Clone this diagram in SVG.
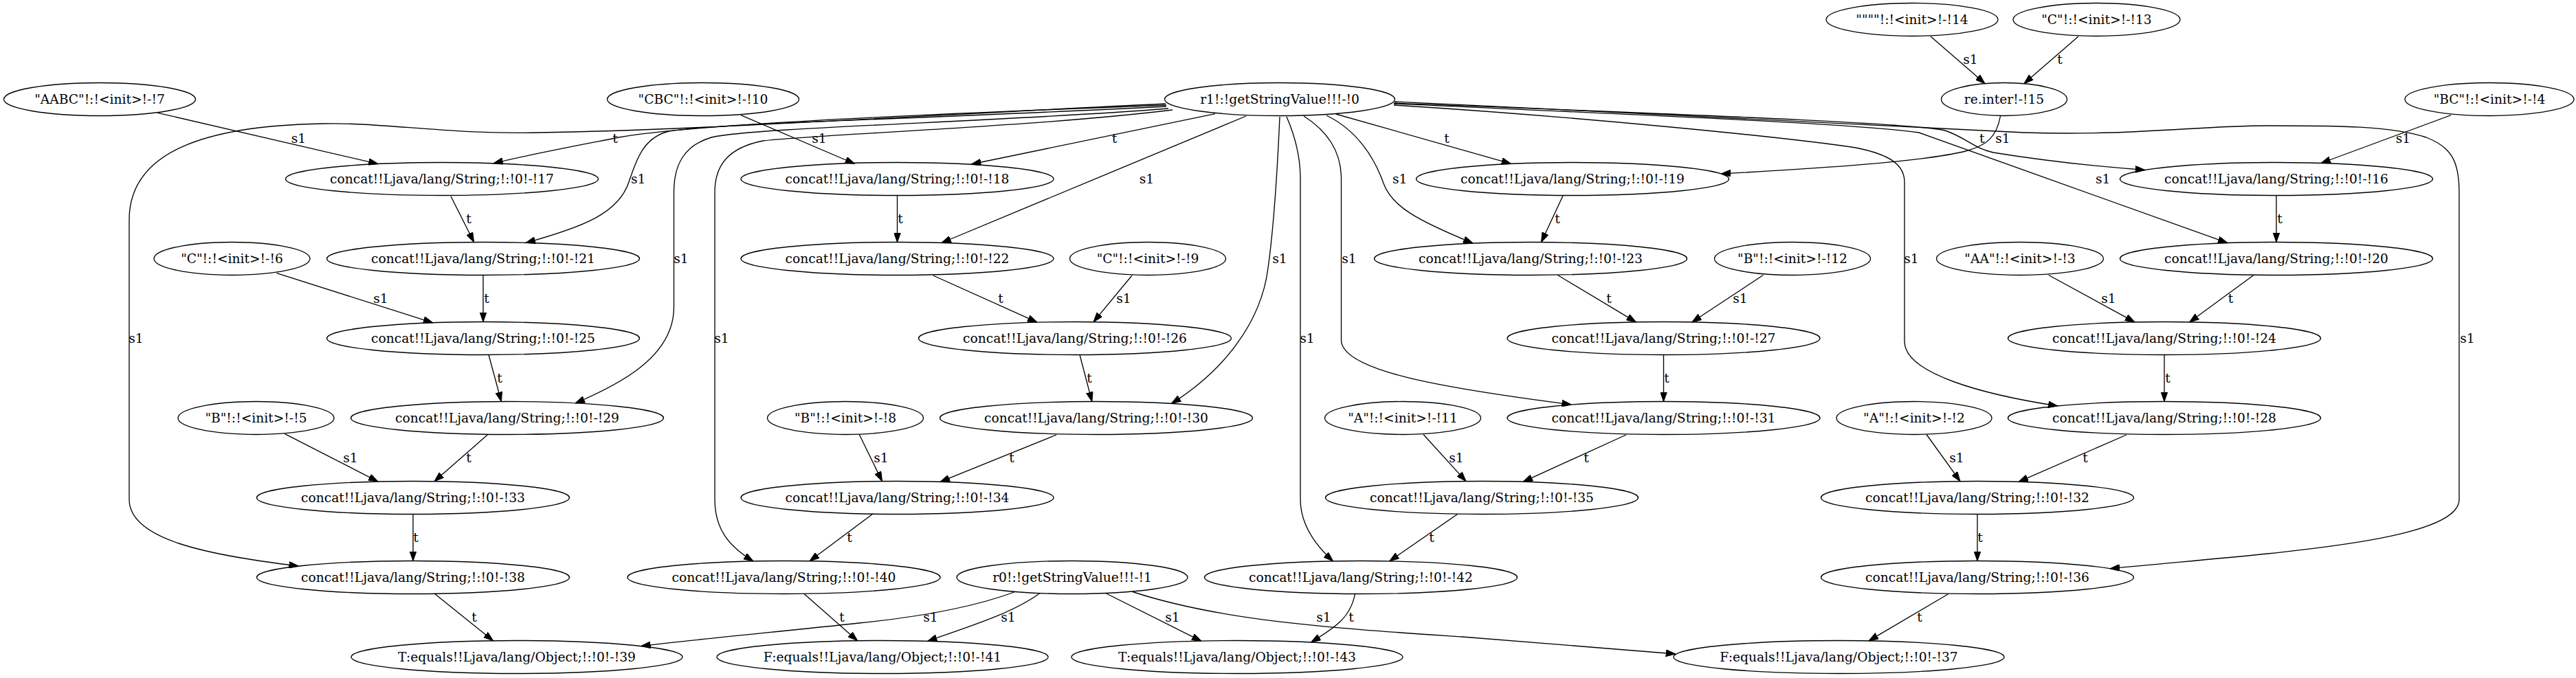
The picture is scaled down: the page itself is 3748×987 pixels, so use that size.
<svg xmlns="http://www.w3.org/2000/svg" width="3748" height="987" viewBox="0 0 3748 987">
<style>
.n ellipse{fill:none;stroke:#000;stroke-width:1.33}
text{font-family:"DejaVu Serif","Liberation Serif",serif;font-size:18.67px;fill:#000}
.n text{text-anchor:middle}
.e path{fill:none;stroke:#000;stroke-width:1.33;marker-end:url(#ah)}
.e text{text-anchor:middle}
</style>
<defs>
<marker id="ah" markerUnits="userSpaceOnUse" markerWidth="14" markerHeight="10" viewBox="0 0 13.3 9.34" refX="13.3" refY="4.67" orient="auto">
<path d="M0,0 L13.3,4.67 L0,9.34 z" fill="#000" stroke="#000" stroke-width="1"/>
</marker>
</defs>
<rect x="0" y="0" width="3748" height="987" fill="#fff"/>
<g class="e" id="connectors">
<path d="M2809,53 L2888,121.6"/><text x="2867" y="93">s1</text>
<path d="M3024,53 L2945,121.6"/><text x="2997" y="93">t</text>
<path d="M229.6,164.3 L550,238.6"/><text x="434.5" y="208">s1</text>
<path d="M1697,153 C1300,168 1000,182 900,200 C840,212 770,225 718,237.8"/><text x="895" y="208">t</text>
<path d="M1078,167.7 L1243.6,238.5"/><text x="1192" y="208">s1</text>
<path d="M1768,165.7 L1413.4,239"/><text x="1621.5" y="208">t</text>
<path d="M1943.6,166 L2198.6,238.4"/><text x="2105" y="208">t</text>
<path d="M2910.5,169 C2905,200 2890,212 2860,220 C2800,235 2650,245 2504,253"/><text x="2914" y="208">s1</text>
<path d="M3566,167.7 L3377,237.5"/><text x="3496.5" y="208">s1</text>
<path d="M2028,150 C2400,165 2780,178 2830,190 C2860,200 2870,215 2900,222 C2980,235 3060,243 3121,247.5"/><text x="2883.7" y="208">t</text>
<path d="M2028,151 C2400,168 2700,180 2792,193 L3241,353.7"/><text x="3059.7" y="267">s1</text>
<path d="M2028,153 C2300,170 2600,200 2700,215 C2750,225 2771,240 2771,265 L2771,497 C2771,545 2890,575 2994,591"/><text x="2781" y="382.5">s1</text>
<path d="M2029,148 C2400,165 2800,185 2945,193 C3100,198 3200,183 3297,183 C3400,183 3480,183 3530,200 C3570,215 3578,240 3578,280 L3578,727 C3578,790 3300,805 3070,827.8"/><text x="3590" y="499">s1</text>
<path d="M1930,168 C1975,190 2000,230 2013,267 C2025,300 2060,320 2143,354"/><text x="2036.7" y="267">s1</text>
<path d="M1813,169 L1370,353.5"/><text x="1668.5" y="267">s1</text>
<path d="M1862,170 C1858,260 1852,340 1845,390 C1835,470 1780,540 1704.4,587.5"/><text x="1862" y="382.5">s1</text>
<path d="M1872,170 C1885,200 1892,230 1892,260 L1892,727 C1892,760 1910,790 1939.6,817"/><text x="1902" y="499">s1</text>
<path d="M1897,169 C1930,190 1951.5,220 1951.5,260 L1951.5,495 C1951.5,540 2100,565 2286.4,589"/><text x="1963" y="382.5">s1</text>
<path d="M1697,155 C1300,175 1020,180 970,192 C935,202 925,235 915,265 C900,310 850,330 765,353.4"/><text x="928.7" y="266.5">s1</text>
<path d="M1700,158 C1450,178 1100,185 1035,200 C995,212 980.5,240 980.5,280 L980.5,447 C980.5,520 900,560 837,587"/><text x="991" y="382.5">s1</text>
<path d="M1706,160 C1500,185 1200,195 1110,205 C1060,215 1040,240 1040,280 L1040,727 C1040,770 1060,795 1096,817"/><text x="1050" y="499">s1</text>
<path d="M1696,151 C1300,170 1000,190 785,193 C650,196 560,178 470,180 C300,183 188,220 188,320 L188,727 C188,785 300,808 434.5,824"/><text x="198" y="499">s1</text>
<path d="M656,285.7 L689.6,352.5"/><text x="682" y="324.5">t</text>
<path d="M1305.5,284.5 L1305.5,352.5"/><text x="1310" y="324.5">t</text>
<path d="M2274,285 L2242.5,352.5"/><text x="2266" y="324.5">t</text>
<path d="M3312,284.5 L3312,352.5"/><text x="3317" y="324.5">t</text>
<path d="M402.6,397.7 L629.8,469.8"/><text x="554" y="440.5">s1</text>
<path d="M703,400.5 L703,468.5"/><text x="708" y="440.5">t</text>
<path d="M1357.6,401 L1509,469.2"/><text x="1456" y="440.5">t</text>
<path d="M1647,401 L1591,468.7"/><text x="1635" y="440.5">s1</text>
<path d="M2266.4,400.5 L2380.4,468.9"/><text x="2341" y="440.5">t</text>
<path d="M2565.4,400.5 L2461.7,469"/><text x="2532" y="440.5">s1</text>
<path d="M2980.7,400.5 L3106,468.9"/><text x="3068" y="440.5">s1</text>
<path d="M3279,400.5 L3185.6,469"/><text x="3245.5" y="440.5">t</text>
<path d="M711,516.5 L729.4,584.6"/><text x="727" y="556.5">t</text>
<path d="M1571,516.5 L1588.8,584.6"/><text x="1585" y="556.5">t</text>
<path d="M2420.5,516.5 L2420.5,584.5"/><text x="2425" y="556.5">t</text>
<path d="M3149,516.5 L3149,584.5"/><text x="3154" y="556.5">t</text>
<path d="M414.5,631.7 L550,701.1"/><text x="510" y="673">s1</text>
<path d="M709.5,632.8 L632,700.7"/><text x="682" y="673">t</text>
<path d="M1250,632 L1283.5,700.6"/><text x="1282" y="673">s1</text>
<path d="M1537,633 L1368,701.4"/><text x="1472" y="673">t</text>
<path d="M2071,632.5 L2133,700.6"/><text x="2119" y="673">s1</text>
<path d="M2366,633 L2216,701.4"/><text x="2308" y="673">t</text>
<path d="M2803,632.5 L2852,700.7"/><text x="2847" y="673">s1</text>
<path d="M3094,633 L2937,701.3"/><text x="3034" y="673">t</text>
<path d="M601,748.5 L601,816.5"/><text x="605" y="789">t</text>
<path d="M1270,748 L1178,816.8"/><text x="1236" y="789">t</text>
<path d="M2120.5,748.5 L2021.7,816.9"/><text x="2083" y="789">t</text>
<path d="M2877,748.5 L2877,816.5"/><text x="2881" y="789">t</text>
<path d="M632,864 L717.5,932.8"/><text x="690" y="904.5">t</text>
<path d="M1170,864.5 L1247.6,932.8"/><text x="1225" y="904.5">t</text>
<path d="M1971.5,864.5 C1965,900 1940,915 1907.7,935"/><text x="1966" y="904.5">t</text>
<path d="M2835,864.5 L2719,932.9"/><text x="2793" y="904.5">t</text>
<path d="M1477,861.5 C1400,890 1300,902 1250,907 C1150,918 1000,932 932.7,940.6"/><text x="1354" y="904.5">s1</text>
<path d="M1513,863.5 C1470,895 1400,915 1349.6,933.4"/><text x="1467" y="904.5">s1</text>
<path d="M1608.7,863.5 L1748,933.4"/><text x="1706" y="904.5">s1</text>
<path d="M1648,861.5 C1780,905 1950,915 2127,927 C2250,936 2350,944 2437.8,952"/><text x="1926" y="904.5">s1</text>
</g>
<g class="n" id="n14"><ellipse cx="2782" cy="28.5" rx="125" ry="24"/><text x="2782" y="35">""""!:!&lt;init&gt;!-!14</text></g>
<g class="n" id="n13"><ellipse cx="3050.5" cy="28.5" rx="121.5" ry="24"/><text x="3050.5" y="35">"C"!:!&lt;init&gt;!-!13</text></g>
<g class="n" id="n7"><ellipse cx="145" cy="144.5" rx="139.5" ry="24"/><text x="145" y="151">"AABC"!:!&lt;init&gt;!-!7</text></g>
<g class="n" id="n10"><ellipse cx="1023" cy="144.5" rx="139.5" ry="24"/><text x="1023" y="151">"CBC"!:!&lt;init&gt;!-!10</text></g>
<g class="n" id="n0"><ellipse cx="1862" cy="144.5" rx="167.5" ry="24"/><text x="1862" y="151">r1!:!getStringValue!!!-!0</text></g>
<g class="n" id="n15"><ellipse cx="2916" cy="144.5" rx="91.5" ry="24"/><text x="2916" y="151">re.inter!-!15</text></g>
<g class="n" id="n4"><ellipse cx="3622" cy="144.5" rx="123" ry="24"/><text x="3622" y="151">"BC"!:!&lt;init&gt;!-!4</text></g>
<g class="n" id="n17"><ellipse cx="643" cy="260.5" rx="227.5" ry="24"/><text x="643" y="267">concat!!Ljava/lang/String;!:!0!-!17</text></g>
<g class="n" id="n18"><ellipse cx="1305.5" cy="260.5" rx="227.5" ry="24"/><text x="1305.5" y="267">concat!!Ljava/lang/String;!:!0!-!18</text></g>
<g class="n" id="n19"><ellipse cx="2288" cy="260.5" rx="227.5" ry="24"/><text x="2288" y="267">concat!!Ljava/lang/String;!:!0!-!19</text></g>
<g class="n" id="n16"><ellipse cx="3312" cy="260.5" rx="227.5" ry="24"/><text x="3312" y="267">concat!!Ljava/lang/String;!:!0!-!16</text></g>
<g class="n" id="n6"><ellipse cx="337.5" cy="376.5" rx="113.5" ry="24"/><text x="337.5" y="383">"C"!:!&lt;init&gt;!-!6</text></g>
<g class="n" id="n21"><ellipse cx="703" cy="376.5" rx="227.5" ry="24"/><text x="703" y="383">concat!!Ljava/lang/String;!:!0!-!21</text></g>
<g class="n" id="n22"><ellipse cx="1305.5" cy="376.5" rx="227.5" ry="24"/><text x="1305.5" y="383">concat!!Ljava/lang/String;!:!0!-!22</text></g>
<g class="n" id="n9"><ellipse cx="1670" cy="376.5" rx="113.5" ry="24"/><text x="1670" y="383">"C"!:!&lt;init&gt;!-!9</text></g>
<g class="n" id="n23"><ellipse cx="2227" cy="376.5" rx="227.5" ry="24"/><text x="2227" y="383">concat!!Ljava/lang/String;!:!0!-!23</text></g>
<g class="n" id="n12"><ellipse cx="2608" cy="376.5" rx="113.5" ry="24"/><text x="2608" y="383">"B"!:!&lt;init&gt;!-!12</text></g>
<g class="n" id="n3"><ellipse cx="2939" cy="376.5" rx="121.5" ry="24"/><text x="2939" y="383">"AA"!:!&lt;init&gt;!-!3</text></g>
<g class="n" id="n20"><ellipse cx="3312" cy="376.5" rx="227.5" ry="24"/><text x="3312" y="383">concat!!Ljava/lang/String;!:!0!-!20</text></g>
<g class="n" id="n25"><ellipse cx="703" cy="492.5" rx="227.5" ry="24"/><text x="703" y="499">concat!!Ljava/lang/String;!:!0!-!25</text></g>
<g class="n" id="n26"><ellipse cx="1564" cy="492.5" rx="227.5" ry="24"/><text x="1564" y="499">concat!!Ljava/lang/String;!:!0!-!26</text></g>
<g class="n" id="n27"><ellipse cx="2420.5" cy="492.5" rx="227.5" ry="24"/><text x="2420.5" y="499">concat!!Ljava/lang/String;!:!0!-!27</text></g>
<g class="n" id="n24"><ellipse cx="3149" cy="492.5" rx="227.5" ry="24"/><text x="3149" y="499">concat!!Ljava/lang/String;!:!0!-!24</text></g>
<g class="n" id="n5"><ellipse cx="372.5" cy="608.5" rx="113.5" ry="24"/><text x="372.5" y="615">"B"!:!&lt;init&gt;!-!5</text></g>
<g class="n" id="n29"><ellipse cx="738" cy="608.5" rx="227.5" ry="24"/><text x="738" y="615">concat!!Ljava/lang/String;!:!0!-!29</text></g>
<g class="n" id="n8"><ellipse cx="1230" cy="608.5" rx="113.5" ry="24"/><text x="1230" y="615">"B"!:!&lt;init&gt;!-!8</text></g>
<g class="n" id="n30"><ellipse cx="1595" cy="608.5" rx="227.5" ry="24"/><text x="1595" y="615">concat!!Ljava/lang/String;!:!0!-!30</text></g>
<g class="n" id="n11"><ellipse cx="2041" cy="608.5" rx="113.5" ry="24"/><text x="2041" y="615">"A"!:!&lt;init&gt;!-!11</text></g>
<g class="n" id="n31"><ellipse cx="2420.5" cy="608.5" rx="227.5" ry="24"/><text x="2420.5" y="615">concat!!Ljava/lang/String;!:!0!-!31</text></g>
<g class="n" id="n2"><ellipse cx="2785" cy="608.5" rx="113" ry="24"/><text x="2785" y="615">"A"!:!&lt;init&gt;!-!2</text></g>
<g class="n" id="n28"><ellipse cx="3149" cy="608.5" rx="227.5" ry="24"/><text x="3149" y="615">concat!!Ljava/lang/String;!:!0!-!28</text></g>
<g class="n" id="n33"><ellipse cx="601" cy="724.5" rx="227.5" ry="24"/><text x="601" y="731">concat!!Ljava/lang/String;!:!0!-!33</text></g>
<g class="n" id="n34"><ellipse cx="1305.5" cy="724.5" rx="227.5" ry="24"/><text x="1305.5" y="731">concat!!Ljava/lang/String;!:!0!-!34</text></g>
<g class="n" id="n35"><ellipse cx="2156" cy="724.5" rx="227.5" ry="24"/><text x="2156" y="731">concat!!Ljava/lang/String;!:!0!-!35</text></g>
<g class="n" id="n32"><ellipse cx="2877" cy="724.5" rx="227.5" ry="24"/><text x="2877" y="731">concat!!Ljava/lang/String;!:!0!-!32</text></g>
<g class="n" id="n38"><ellipse cx="601" cy="840.5" rx="227.5" ry="24"/><text x="601" y="847">concat!!Ljava/lang/String;!:!0!-!38</text></g>
<g class="n" id="n40"><ellipse cx="1140.5" cy="840.5" rx="227.5" ry="24"/><text x="1140.5" y="847">concat!!Ljava/lang/String;!:!0!-!40</text></g>
<g class="n" id="n1"><ellipse cx="1560" cy="840.5" rx="168" ry="24"/><text x="1560" y="847">r0!:!getStringValue!!!-!1</text></g>
<g class="n" id="n42"><ellipse cx="1980" cy="840.5" rx="227.5" ry="24"/><text x="1980" y="847">concat!!Ljava/lang/String;!:!0!-!42</text></g>
<g class="n" id="n36"><ellipse cx="2877" cy="840.5" rx="227.5" ry="24"/><text x="2877" y="847">concat!!Ljava/lang/String;!:!0!-!36</text></g>
<g class="n" id="n39"><ellipse cx="752" cy="956.5" rx="241" ry="24"/><text x="752" y="963">T:equals!!Ljava/lang/Object;!:!0!-!39</text></g>
<g class="n" id="n41"><ellipse cx="1284" cy="956.5" rx="241" ry="24"/><text x="1284" y="963">F:equals!!Ljava/lang/Object;!:!0!-!41</text></g>
<g class="n" id="n43"><ellipse cx="1800" cy="956.5" rx="241" ry="24"/><text x="1800" y="963">T:equals!!Ljava/lang/Object;!:!0!-!43</text></g>
<g class="n" id="n37"><ellipse cx="2675.5" cy="956.5" rx="240.5" ry="24"/><text x="2675.5" y="963">F:equals!!Ljava/lang/Object;!:!0!-!37</text></g>
</svg>
